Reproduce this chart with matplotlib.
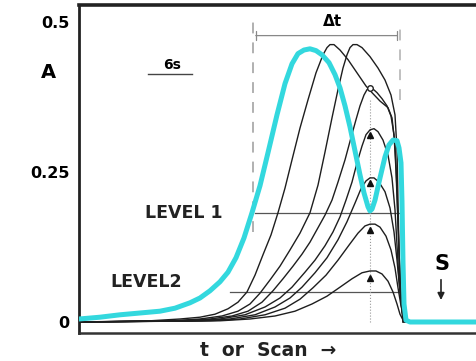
import numpy as np
import matplotlib.pyplot as plt

# scan position (arbitrary units) and absorbance A
cyan_x = [0, 21, 41, 61, 81, 96, 111, 121, 131, 141, 149, 157, 165, 173, 181, 189, 198, 206,
          213, 219, 225, 231, 237, 243, 250, 256, 261, 266, 271, 276, 281, 285, 289, 291, 293,
          296, 301, 306, 310, 314, 318, 320, 322, 323, 324, 325, 327, 331, 398]
cyan_y = [0.005, 0.008, 0.012, 0.015, 0.018, 0.023, 0.032, 0.040, 0.052, 0.067, 0.083, 0.107,
          0.14, 0.182, 0.227, 0.282, 0.345, 0.397, 0.43, 0.447, 0.453, 0.455, 0.452, 0.445,
          0.432, 0.412, 0.39, 0.36, 0.325, 0.285, 0.245, 0.215, 0.192, 0.185, 0.188, 0.203,
          0.24, 0.275, 0.295, 0.303, 0.302, 0.29, 0.265, 0.2, 0.1, 0.03, 0.003, 0.0, 0.0]

c1_x = [0, 71, 101, 121, 136, 149, 159, 168, 176, 184, 192, 199, 206, 213, 221, 229, 237, 244,
        248, 251, 255, 261, 269, 278, 287, 293, 301, 309, 313, 316, 318, 320, 322, 324]
c1_y = [0, 0.002, 0.005, 0.008, 0.013, 0.022, 0.033, 0.05, 0.078, 0.112, 0.145, 0.182, 0.223,
        0.27, 0.323, 0.37, 0.415, 0.445, 0.457, 0.462, 0.462, 0.453, 0.437, 0.415, 0.393,
        0.382, 0.368, 0.357, 0.34, 0.295, 0.22, 0.12, 0.037, 0]
c2_x = [0, 91, 121, 143, 159, 171, 181, 191, 201, 211, 221, 231, 239, 246, 253, 259, 264, 268,
        271, 274, 278, 283, 291, 299, 306, 312, 316, 318, 319, 320, 322, 325]
c2_y = [0, 0.002, 0.005, 0.01, 0.018, 0.03, 0.048, 0.07, 0.093, 0.12, 0.148, 0.182, 0.228,
        0.283, 0.34, 0.387, 0.423, 0.445, 0.457, 0.462, 0.462, 0.457, 0.442, 0.423, 0.403,
        0.378, 0.345, 0.287, 0.203, 0.12, 0.037, 0]
c3_x = [0, 101, 131, 153, 169, 183, 194, 204, 214, 223, 231, 239, 246, 253, 259, 266, 272, 277,
        281, 285, 288, 291, 294, 298, 303, 308, 312, 315, 317, 319, 321, 324]
c3_y = [0, 0.002, 0.005, 0.01, 0.018, 0.033, 0.052, 0.072, 0.093, 0.113, 0.133, 0.157, 0.178,
        0.203, 0.233, 0.27, 0.307, 0.337, 0.36, 0.378, 0.387, 0.39, 0.388, 0.382, 0.372, 0.36,
        0.343, 0.312, 0.253, 0.162, 0.07, 0]
c4_x = [0, 111, 141, 166, 186, 201, 213, 226, 236, 246, 254, 261, 267, 273, 278, 283, 287, 291,
        295, 299, 304, 309, 313, 316, 318, 320, 323, 326]
c4_y = [0, 0.002, 0.005, 0.012, 0.025, 0.04, 0.058, 0.083, 0.103, 0.127, 0.15, 0.175, 0.203,
        0.233, 0.265, 0.293, 0.312, 0.32, 0.322, 0.317, 0.303, 0.278, 0.24, 0.187, 0.128, 0.07,
        0.017, 0]
c5_x = [0, 121, 151, 176, 196, 211, 223, 236, 248, 259, 268, 276, 282, 287, 291, 295, 300, 306,
        311, 315, 318, 321, 324, 327]
c5_y = [0, 0.002, 0.005, 0.012, 0.025, 0.04, 0.058, 0.082, 0.107, 0.137, 0.167, 0.198, 0.222,
        0.235, 0.24, 0.24, 0.233, 0.217, 0.19, 0.15, 0.103, 0.05, 0.01, 0]
c6_x = [0, 131, 161, 186, 206, 221, 234, 247, 259, 270, 279, 286, 291, 296, 301, 307, 312, 316,
        319, 322, 326]
c6_y = [0, 0.002, 0.005, 0.012, 0.023, 0.038, 0.057, 0.078, 0.103, 0.128, 0.148, 0.16, 0.163,
        0.163, 0.158, 0.143, 0.12, 0.09, 0.057, 0.027, 0]
c7_x = [0, 141, 171, 196, 216, 233, 248, 261, 273, 283, 291, 297, 303, 309, 314, 318, 321, 325]
c7_y = [0, 0.002, 0.005, 0.01, 0.018, 0.03, 0.043, 0.058, 0.072, 0.082, 0.085, 0.085, 0.08,
        0.068, 0.05, 0.03, 0.013, 0]

black_curves = [(c1_x, c1_y), (c2_x, c2_y), (c3_x, c3_y), (c4_x, c4_y),
                (c5_x, c5_y), (c6_x, c6_y), (c7_x, c7_y)]

level1 = 0.182
level2 = 0.05
peak_x = 291
circle_y = [0.39]
triangle_y = [0.312, 0.232, 0.153, 0.073]
dt_left, dt_right = 174, 321

fig = plt.figure(figsize=(4.77, 3.61), dpi=100)
ax = fig.add_axes([0.1656, 0.0776, 0.8344, 0.9086])

for cx, cy in black_curves:
    ax.plot(cx, cy, color='#1e1e1e', lw=1.0, zorder=3, solid_joinstyle='round')

ax.plot(cyan_x, cyan_y, color='#33d8de', lw=3.6, solid_capstyle='round',
        solid_joinstyle='round', zorder=5)

# level lines
ax.plot([176, 321], [level1, level1], color='#555555', lw=0.9, zorder=2)
ax.plot([151, 321], [level2, level2], color='#555555', lw=0.9, zorder=2)

# guide lines
ax.plot([dt_left, dt_left], [0.15, 0.50], color='#aaaaaa', lw=1.3, ls=(0, (6, 5)), zorder=1)
ax.plot([dt_right, dt_right], [0.37, 0.50], color='#bbbbbb', lw=1.3, ls=(0, (6, 5)), zorder=1)
ax.plot([peak_x, peak_x], [0.0, 0.37], color='#999999', lw=0.8, ls=':', zorder=2)

ax.plot([peak_x] * len(circle_y), circle_y, 'o', mfc='white', mec='#222222', ms=4, mew=1, zorder=4)
ax.plot([peak_x] * len(triangle_y), triangle_y, '^', color='#111111', ms=4, zorder=4)

ax.annotate('', xy=(dt_left, 0.477), xytext=(dt_right, 0.477),
            arrowprops=dict(arrowstyle='|-|, widthA=0.3, widthB=0.3', color='#888888', lw=0.9))
ax.text(253, 0.50, 'Δt', fontsize=11, fontweight='bold', ha='center', va='center')

ax.text(93, 0.428, '6s', fontsize=10, fontweight='bold', ha='center', va='center')
ax.plot([69, 113], [0.413, 0.413], color='#444444', lw=1.0)

ax.text(105, level1, 'LEVEL 1', fontsize=12.5, fontweight='bold', ha='center', va='center',
        color='#222222')
ax.text(67, 0.067, 'LEVEL2', fontsize=12.5, fontweight='bold', ha='center', va='center',
        color='#222222')

ax.text(363, 0.097, 'S', fontsize=15, fontweight='bold', ha='center', va='center')
ax.annotate('', xy=(362, 0.032), xytext=(362, 0.075),
            arrowprops=dict(arrowstyle='-|>, head_width=0.2, head_length=0.4', color='#222222', lw=1.2))

ax.text(-31, 0.415, 'A', fontsize=14, fontweight='bold', ha='center', va='center')

fig.text(0.562, 0.03, 't  or  Scan  →', fontsize=13.5, fontweight='bold', ha='center',
         va='center', color='#222222')

ax.set_xlim(0, 398)
ax.set_ylim(-0.0183, 0.528)
ax.set_xticks([])
ax.set_yticks([0, 0.25, 0.5])
ax.set_yticklabels(['0', '0.25', '0.5'], fontsize=11.5, fontweight='bold')
ax.tick_params(axis='y', length=0, pad=7)

ax.spines['right'].set_visible(False)
ax.spines['top'].set_linewidth(2.6)
ax.spines['top'].set_color('#222222')
ax.spines['left'].set_linewidth(2.0)
ax.spines['left'].set_color('#222222')
ax.spines['bottom'].set_linewidth(1.8)
ax.spines['bottom'].set_color('#333333')

fig.savefig('out.png', dpi=100)
